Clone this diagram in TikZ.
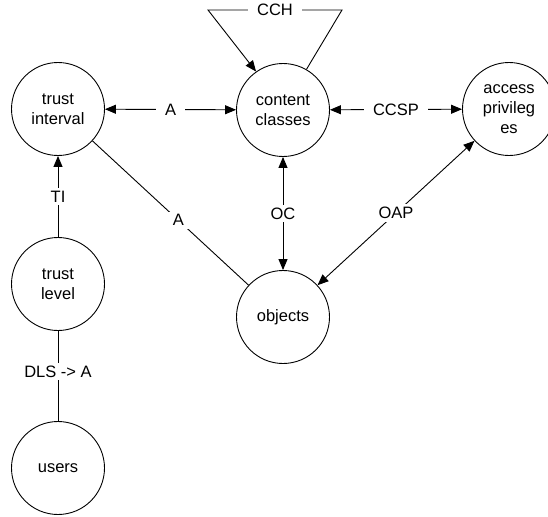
\documentclass[tikz,border=0pt]{standalone}
\usepackage{fontspec}
\setmainfont{Liberation Sans}
\usepackage{tikz}
\usetikzlibrary{arrows.meta}

\begin{document}
\begin{tikzpicture}[x=1pt,y=-1pt,line width=0.9pt,
    font=\fontsize{16.5}{20}\selectfont,
    ent/.style={draw,circle,minimum size=93pt,inner sep=0pt,align=center},
    lbl/.style={fill=white,inner xsep=9pt,inner ysep=3pt},
    >={Triangle[length=11pt,width=9pt]}]
    \useasboundingbox (0,0) rectangle (548,516);
    \node[ent] (ti) at (58,109) {trust\\interval};
    \node[ent] (cc) at (283,110) {content\\classes};
    \node[ent] (ap) at (509,109) {access\\privileg\\es};
    \node[ent] (tl) at (58,284) {trust\\level};
    \node[ent] (us) at (58,468) {users};
    \node[ent] (ob) at (283,317) {objects};
    \coordinate (chl) at (208,10);
    \coordinate (chr) at (342,10);
    \draw[<->] (ti) to node[lbl] {A} (cc);
    \draw[<->] (cc) to node[lbl] {CCSP} (ap);
    \draw[->] (tl) to node[lbl] {TI} (ti);
    \draw[-] (us) to node[lbl,pos=0.55] {DLS -> A} (tl);
    \draw[-] (ti) to node[lbl,pos=0.55] {A} (ob);
    \draw[<->] (cc) to node[lbl] {OC} (ob);
    \draw[<->] (ob) to node[lbl] {OAP} (ap);
    \draw[->] (cc.60) to (chr) to node[lbl] {CCH} (chl) to (cc.125);
\end{tikzpicture}
\end{document}
